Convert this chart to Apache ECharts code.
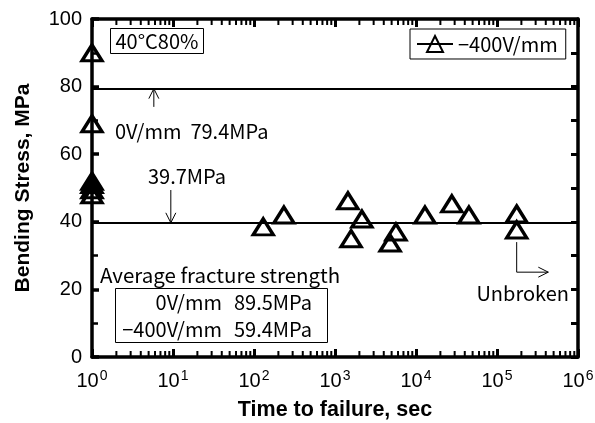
<!DOCTYPE html>
<html>
<head>
<meta charset="utf-8">
<script src="https://cdn.jsdelivr.net/npm/echarts@6/dist/echarts.min.js"></script>
<style>html,body{margin:0;padding:0;background:#fff}#c{width:595px;height:423px}</style>
</head>
<body>
<div id="c"></div>
<script>
// ---- data ----
const seriesName = '\u2212400V/mm';
const timeSec   = [1, 1, 1, 1, 1, 1, 130, 234, 1445, 2150, 1580, 5650, 4790, 12900, 27700, 45000, 175000, 175000];
const stressMPa = [90, 69, 52, 51, 49.5, 48, 38.5, 42, 46.2, 40.8, 35, 37, 33.7, 42, 45.3, 42, 42.3, 37.6];
const avgLineValues = [79.4, 39.7];
const xTickExponents = [0, 1, 2, 3, 4, 5, 6];
const yTickLabels = [0, 20, 40, 60, 80, 100];
// log minor tick mantissas (2..9 of each decade)
const minorMantissas = [2, 3, 4, 5, 6, 7, 8, 9];
// annotation arrows in data coordinates: [x1, y1, x2, y2] (head at x2,y2)
const arrows = [[5.8, 74, 5.8, 79.4], [9.4, 49.4, 9.4, 39.7]];
// elbow arrow for "Unbroken": [x, yStart, yCorner, xEnd]
const unbrokenArrow = [[175000, 34, 25.1, 430000]];

const minorTickValues = [];
xTickExponents.slice(0, -1).forEach(e => minorMantissas.forEach(m => minorTickValues.push([m * Math.pow(10, e), 50])));

const annFont = '"Noto Sans CJK JP", "Noto Sans", sans-serif';
const tickFont = '"Liberation Sans", Arial, sans-serif';

const chart = echarts.init(document.getElementById('c'), null, {renderer: 'canvas'});

function headLines(p, q, len, half) {
  const dx = q[0] - p[0], dy = q[1] - p[1];
  const L = Math.sqrt(dx * dx + dy * dy) || 1;
  const ux = dx / L, uy = dy / L;
  const bx = q[0] - ux * len, by = q[1] - uy * len;
  return [[bx - uy * half, by + ux * half], q, [bx + uy * half, by - ux * half]];
}

const option = {
  animation: false,
  backgroundColor: '#fff',
  grid: {left: 92, right: 17, top: 19, bottom: 66, containLabel: false, outerBoundsMode: 'none'},
  legend: {
    left: 410, top: 29,
    padding: [5, 8, 5, 6],
    itemWidth: 36, itemHeight: 20, itemGap: 5,
    backgroundColor: '#fff',
    borderColor: '#000', borderWidth: 1, borderRadius: 0,
    textStyle: {fontFamily: annFont, fontSize: 20, color: '#000'},
    lineStyle: {opacity: 1, width: 2, color: '#000'},
    data: [seriesName]
  },
  xAxis: [{
    type: 'log', logBase: 10, min: 1, max: 1e6, position: 'bottom',
    name: 'Time to failure, sec', nameLocation: 'middle', nameGap: 42,
    nameTextStyle: {fontFamily: tickFont, fontWeight: 'bold', fontSize: 21.5, color: '#000'},
    axisLine: {show: true, onZero: false, lineStyle: {color: '#000', width: 3.5}},
    axisTick: {show: true, inside: true, length: 8, lineStyle: {color: '#000', width: 3}},
    splitLine: {show: false},
    axisLabel: {
      margin: 12, color: '#000',
      formatter: v => '{b|10}{s|' + Math.round(Math.log10(v)) + '}',
      rich: {
        b: {fontFamily: tickFont, fontSize: 20, color: '#000'},
        s: {fontFamily: tickFont, fontSize: 14, color: '#000', padding: [0, 0, 10, 1]}
      }
    }
  }, {
    type: 'log', logBase: 10, min: 1, max: 1e6, position: 'top',
    axisLine: {show: true, onZero: false, lineStyle: {color: '#000', width: 3.5}},
    axisTick: {show: true, inside: true, length: 8, lineStyle: {color: '#000', width: 3}},
    axisLabel: {show: false}, splitLine: {show: false}
  }],
  yAxis: [{
    type: 'value', min: 0, max: 100, interval: 20, position: 'left',
    name: 'Bending Stress, MPa', nameLocation: 'middle', nameGap: 58,
    nameTextStyle: {fontFamily: tickFont, fontWeight: 'bold', fontSize: 21, color: '#000'},
    axisLine: {show: true, onZero: false, lineStyle: {color: '#000', width: 3.5}},
    axisTick: {show: true, inside: true, length: 7, lineStyle: {color: '#000', width: 3.5}},
    minorTick: {show: true, splitNumber: 2, length: 6, lineStyle: {color: '#000', width: 2.5}},
    splitLine: {show: false},
    axisLabel: {margin: 10, fontFamily: tickFont, fontSize: 20, color: '#000',
      formatter: v => (yTickLabels.indexOf(v) >= 0 ? String(v) : '')}
  }, {
    type: 'value', min: 0, max: 100, interval: 10, position: 'right',
    axisLine: {show: true, onZero: false, lineStyle: {color: '#000', width: 3.5}},
    axisTick: {show: true, inside: true, length: 7, lineStyle: {color: '#000', width: 3}},
    axisLabel: {show: false}, splitLine: {show: false}
  }],
  series: [{
    name: seriesName,
    type: 'line',
    data: timeSec.map((t, i) => [t, stressMPa[i]]),
    symbol: 'triangle',
    symbolSize: [20, 16],
    showSymbol: true, showAllSymbol: true,
    lineStyle: {opacity: 0, width: 2, color: '#000'},
    itemStyle: {color: 'rgba(255,255,255,0)', borderColor: '#000', borderWidth: 3.3},
    emphasis: {disabled: true},
    z: 5,
    markLine: {
      silent: true, symbol: 'none', animation: false,
      label: {show: false},
      lineStyle: {color: '#000', width: 2, type: 'solid'},
      data: avgLineValues.map(v => ({yAxis: v}))
    }
  }, {
    type: 'custom', name: 'minorTicks', silent: true,
    data: minorTickValues,
    encode: {x: 0, y: 1},
    clip: false, z: 8,
    renderItem: (params, api) => {
      const x = api.value(0);
      const pb = api.coord([x, 0]);
      const pt = api.coord([x, 100]);
      return {type: 'group', children: [
        {type: 'line', shape: {x1: pb[0], y1: pb[1], x2: pb[0], y2: pb[1] - 6}, style: {stroke: '#000', lineWidth: 2}},
        {type: 'line', shape: {x1: pt[0], y1: pt[1], x2: pt[0], y2: pt[1] + 6}, style: {stroke: '#000', lineWidth: 2}}
      ]};
    }
  }, {
    type: 'custom', name: 'arrows', silent: true,
    data: arrows,
    clip: false,
    encode: {x: [0, 2], y: [1, 3]},
    renderItem: (params, api) => {
      const p = api.coord([api.value(0), api.value(1)]);
      const q = api.coord([api.value(2), api.value(3)]);
      return {type: 'group', children: [
        {type: 'line', shape: {x1: p[0], y1: p[1], x2: q[0], y2: q[1]}, style: {stroke: '#000', lineWidth: 1}},
        {type: 'polyline', shape: {points: headLines(p, q, 10, 5)}, style: {stroke: '#000', lineWidth: 1, fill: null}}
      ]};
    }
  }, {
    type: 'custom', name: 'unbroken', silent: true,
    data: unbrokenArrow,
    clip: false,
    encode: {x: [0, 3], y: [1, 2]},
    renderItem: (params, api) => {
      const p0 = api.coord([api.value(0), api.value(1)]);
      const p1 = api.coord([api.value(0), api.value(2)]);
      const p2 = api.coord([api.value(3), api.value(2)]);
      return {type: 'group', children: [
        {type: 'polyline', shape: {points: [p0, p1, p2]}, style: {stroke: '#000', lineWidth: 1, fill: null}},
        {type: 'polyline', shape: {points: headLines(p1, p2, 10, 5)}, style: {stroke: '#000', lineWidth: 1, fill: null}}
      ]};
    }
  }],
  graphic: [
    {type: 'rect', z: 10, shape: {x: 110.5, y: 28.5, width: 93, height: 25}, style: {fill: '#fff', stroke: '#000', lineWidth: 1}},
    {type: 'text', z: 11, x: 157, y: 41, style: {text: '40\u00B0C80%', fontFamily: annFont, fontSize: 20, fill: '#000', align: 'center', verticalAlign: 'middle'}},
    {type: 'text', z: 11, x: 115, y: 131, style: {text: '0V/mm  79.4MPa', fontFamily: annFont, fontSize: 20, fill: '#000', align: 'left', verticalAlign: 'middle'}},
    {type: 'text', z: 11, x: 148, y: 176, style: {text: '39.7MPa', fontFamily: annFont, fontSize: 20, fill: '#000', align: 'left', verticalAlign: 'middle'}},
    {type: 'text', z: 11, x: 100, y: 275, style: {text: 'Average fracture strength', fontFamily: annFont, fontSize: 20.5, fill: '#000', align: 'left', verticalAlign: 'middle'}},
    {type: 'rect', z: 10, shape: {x: 115.5, y: 288.5, width: 212, height: 54}, style: {fill: '#fff', stroke: '#000', lineWidth: 1}},
    {type: 'text', z: 11, x: 222, y: 302, style: {text: '0V/mm', fontFamily: annFont, fontSize: 20, fill: '#000', align: 'right', verticalAlign: 'middle'}},
    {type: 'text', z: 11, x: 234, y: 302, style: {text: '89.5MPa', fontFamily: annFont, fontSize: 20, fill: '#000', align: 'left', verticalAlign: 'middle'}},
    {type: 'text', z: 11, x: 222, y: 329, style: {text: '\u2212400V/mm', fontFamily: annFont, fontSize: 20, fill: '#000', align: 'right', verticalAlign: 'middle'}},
    {type: 'text', z: 11, x: 234, y: 329, style: {text: '59.4MPa', fontFamily: annFont, fontSize: 20, fill: '#000', align: 'left', verticalAlign: 'middle'}},
    {type: 'text', z: 11, x: 569, y: 293, style: {text: 'Unbroken', fontFamily: annFont, fontSize: 20, fill: '#000', align: 'right', verticalAlign: 'middle'}}
  ]
};
chart.setOption(option);
</script>
</body>
</html>
